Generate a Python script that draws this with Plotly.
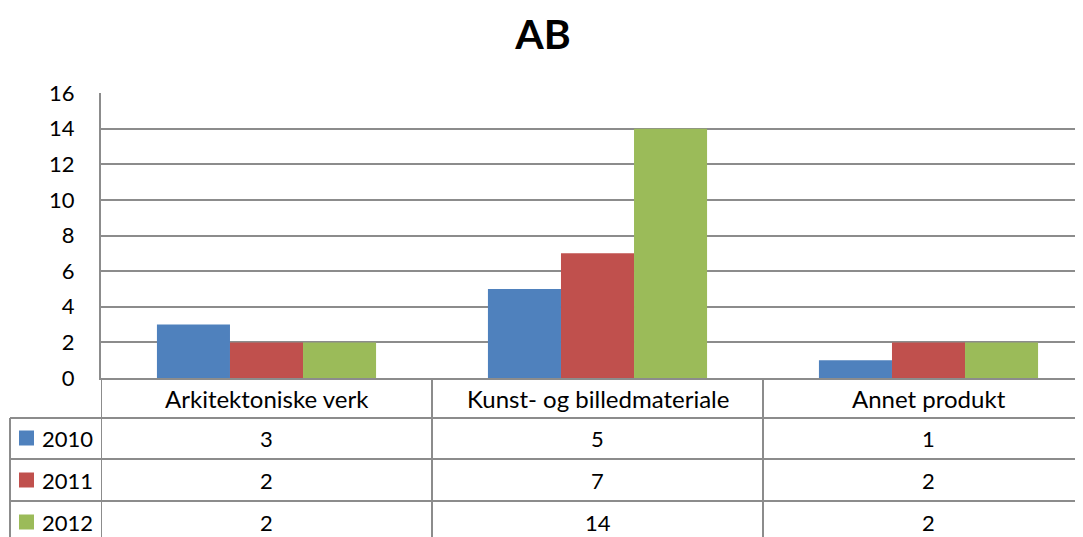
import plotly.graph_objects as go

categories = ["Arkitektoniske verk", "Kunst- og billedmateriale", "Annet produkt"]
years = ["2010", "2011", "2012"]
values_2010 = [3, 5, 1]
values_2011 = [2, 7, 2]
values_2012 = [2, 14, 2]
colors = ["#4F81BD", "#C0504D", "#9BBB59"]
y_ticks = [0, 2, 4, 6, 8, 10, 12, 14, 16]

series = [values_2010, values_2011, values_2012]

OFF = 8                          # page body margin
W, H = 1083 - OFF, 537 - OFF
L, T, B = 101 - OFF, 93 - OFF, 378 - OFF
R = W
FONT = "Lato"
FS = 22
GRID = "#8C8C8C"

def px(x):
    return (x - OFF - L) / (R - L)

def py(y):
    return (B - (y - OFF)) / (B - T)

fig = go.Figure()
xs = [0, 1, 2]
for yr, vals, col in zip(years, series, colors):
    fig.add_trace(go.Bar(x=xs, y=vals, name=yr, marker=dict(color=col, line=dict(width=0)),
                         showlegend=False))

cat_w = 331.0
x_max = -0.5 + (R - L) / cat_w

shapes = []
annotations = []

row_lines = [418, 459, 501, 543]
row_centers = [438, 480, 522]
for y in row_lines:
    shapes.append(dict(type="line", xref="paper", yref="paper", x0=px(10), x1=1.02,
                       y0=py(y), y1=py(y), line=dict(color=GRID, width=2)))
for b in [-0.5, 0.5, 1.5]:
    shapes.append(dict(type="line", xref="x", yref="paper", x0=b, x1=b,
                       y0=py(378), y1=py(545), line=dict(color=GRID, width=2)))
shapes.append(dict(type="line", xref="paper", yref="paper", x0=px(10), x1=px(10),
                   y0=py(418), y1=py(545), line=dict(color=GRID, width=2)))

for i, c in enumerate(categories):
    annotations.append(dict(x=i, y=py(398), xref="x", yref="paper", text=c, showarrow=False,
                            font=dict(family=FONT, size=24, color="#000"), xanchor="center",
                            yanchor="middle"))
for r, (yr, vals, col) in enumerate(zip(years, series, colors)):
    yc = row_centers[r]
    shapes.append(dict(type="rect", xref="paper", yref="paper", x0=px(19), x1=px(34),
                       y0=py(yc - 7.5), y1=py(yc + 7.5), fillcolor=col, line=dict(width=0)))
    annotations.append(dict(x=px(40), y=py(yc), xref="paper", yref="paper", text=yr,
                            showarrow=False, xanchor="left", yanchor="middle",
                            font=dict(family=FONT, size=FS, color="#000")))
    for i, v in enumerate(vals):
        annotations.append(dict(x=i, y=py(yc), xref="x", yref="paper", text=str(v),
                                showarrow=False, xanchor="center", yanchor="middle",
                                font=dict(family=FONT, size=FS, color="#000")))

fig.update_layout(
    width=W, height=H,
    margin=dict(l=L, r=W - R, t=T, b=H - B, pad=0),
    paper_bgcolor="white", plot_bgcolor="white",
    title=dict(text="<b>AB</b>", x=(543 - OFF) / W, xref="container", xanchor="center",
               y=1 - (35 - OFF) / H, yref="container", yanchor="middle",
               font=dict(family=FONT, size=41, color="#000")),
    barmode="group", bargap=0.338, bargroupgap=0,
    xaxis=dict(range=[-0.5, x_max], showticklabels=False, ticks="", showgrid=False,
               zeroline=False, showline=True, linecolor=GRID, linewidth=2, mirror=False,
               fixedrange=True),
    yaxis=dict(range=[0, 16], tickvals=y_ticks, showgrid=True, gridcolor=GRID, gridwidth=2,
               zeroline=False, showline=True, linecolor=GRID, linewidth=2, ticks="",
               ticklabelstandoff=20, tickfont=dict(family=FONT, size=FS, color="#000")),
    shapes=shapes, annotations=annotations,
)

fig.write_html("out.html")
